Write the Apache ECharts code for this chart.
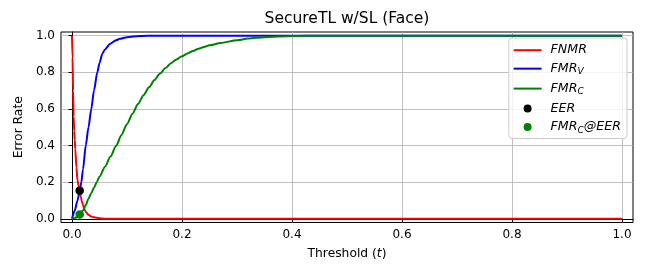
<!DOCTYPE html>
<html>
<head>
<meta charset="utf-8">
<script src="https://cdn.jsdelivr.net/npm/echarts@6/dist/echarts.min.js"></script>
<style>
html,body{margin:0;padding:0;background:#fff;}
#chart{width:648px;height:278px;}
</style>
</head>
<body>
<div id="chart"></div>
<script>
// ---- data ----
const tFNMR = [0, 0.001, 0.002, 0.003, 0.004, 0.005, 0.006, 0.008, 0.01, 0.012, 0.014, 0.016, 0.018, 0.02, 0.023, 0.026, 0.03, 0.035, 0.04, 0.05, 0.06, 0.07, 0.08, 0.1, 1.0];
const fnmr  = [1.0, 0.88, 0.7, 0.56, 0.48, 0.43, 0.38, 0.28, 0.21, 0.18, 0.154, 0.12, 0.095, 0.075, 0.05, 0.035, 0.022, 0.013, 0.008, 0.003, 0.001, 0.0005, 0, 0, 0];

const tFMRV = [0, 0.005, 0.01, 0.014, 0.017, 0.02, 0.025, 0.03, 0.035, 0.04, 0.046, 0.05, 0.055, 0.06, 0.069, 0.08, 0.087, 0.1, 0.123, 0.15, 0.2, 0.4, 1.0];
const fmrV  = [0, 0.045, 0.1, 0.154, 0.2, 0.27, 0.4, 0.5, 0.6, 0.7, 0.8, 0.85, 0.9, 0.925, 0.955, 0.975, 0.983, 0.992, 0.998, 1.0, 1.0, 1.0, 1.0];

const tFMRC = [0, 0.005, 0.01, 0.014, 0.02, 0.025, 0.03, 0.035, 0.04, 0.045, 0.05, 0.06, 0.07, 0.08, 0.09, 0.1, 0.11, 0.12, 0.13, 0.14, 0.15, 0.16, 0.17, 0.18, 0.19, 0.2, 0.21, 0.22, 0.23, 0.24, 0.25, 0.27, 0.3, 0.32, 0.35, 0.4, 0.45, 0.5, 1.0];
const fmrC  = [0, 0.004, 0.012, 0.023, 0.045, 0.075, 0.11, 0.14, 0.17, 0.2, 0.23, 0.285, 0.34, 0.397, 0.458, 0.518, 0.574, 0.627, 0.675, 0.718, 0.758, 0.793, 0.823, 0.85, 0.87, 0.888, 0.903, 0.916, 0.928, 0.938, 0.947, 0.96, 0.975, 0.984, 0.992, 0.998, 1.0, 1.0, 1.0];

const eerT = [0.014];
const eerY = [0.154];
const fmrCAtEER = [0.024];

const xTicks = [0, 0.2, 0.4, 0.6, 0.8, 1.0];
const yTicks = [0, 0.2, 0.4, 0.6, 0.8, 1.0];

const legendLabels = {
  'FNMR': '{i|FNMR}',
  'FMR_V': '{i|FMR}{s|V}',
  'FMR_C': '{i|FMR}{s|C}',
  'EER': '{i|EER}',
  'FMR_C@EER': '{i|FMR}{s|C}{i|@EER}'
};

const zip = (a, b) => a.map((v, i) => [v, b[i]]);
const FONT = 'DejaVu Sans';
const lineIcon = 'path://M0,0L28,0L28,2L0,2Z';

const chart = echarts.init(document.getElementById('chart'), null, {renderer: 'canvas'});
const axisCommon = {
  type: 'value',
  min: -0.02,
  max: 1.02,
  axisLine: {show: true, lineStyle: {color: '#000', width: 1}},
  axisTick: {show: true, inside: false, length: 3.5, lineStyle: {color: '#000', width: 1}},
  splitLine: {show: true, lineStyle: {color: '#b0b0b0', width: 0.8}},
  axisLabel: {
    color: '#000', fontFamily: FONT, fontSize: 12, margin: 6,
    formatter: v => v.toFixed(1)
  }
};

chart.setOption({
  animation: false,
  backgroundColor: '#fff',
  title: {
    text: 'SecureTL w/SL (Face)',
    left: 347, top: 11, padding: 0, textAlign: 'center',
    textStyle: {fontFamily: FONT, fontSize: 15.5, fontWeight: 'normal', color: '#000'}
  },
  grid: {
    left: 61, right: 15, top: 32, bottom: 55.5,
    show: true, borderColor: '#000', borderWidth: 1, backgroundColor: 'transparent',
    containLabel: false
  },
  xAxis: Object.assign({}, axisCommon, {
    axisLabel: Object.assign({}, axisCommon.axisLabel, {customValues: xTicks}),
    axisTick: Object.assign({}, axisCommon.axisTick, {customValues: xTicks}),
    name: '{n|Threshold (}{i|t}{n|)}',
    nameLocation: 'middle', nameGap: 25,
    nameTextStyle: {
      color: '#000', fontFamily: FONT, fontSize: 12.3,
      rich: {
        n: {fontFamily: FONT, fontSize: 12.3, color: '#000'},
        i: {fontFamily: FONT, fontSize: 12.3, color: '#000', fontStyle: 'italic'}
      }
    }
  }),
  yAxis: Object.assign({}, axisCommon, {
    axisLabel: Object.assign({}, axisCommon.axisLabel, {customValues: yTicks}),
    axisTick: Object.assign({}, axisCommon.axisTick, {customValues: yTicks}),
    name: 'Error Rate',
    nameLocation: 'middle', nameGap: 31, nameRotate: 90,
    nameTextStyle: {color: '#000', fontFamily: FONT, fontSize: 12.3}
  }),
  legend: {
    orient: 'vertical',
    right: 21, top: 38,
    itemWidth: 28, itemHeight: 8, itemGap: 5.45,
    padding: [5.7, 6, 3.5, 4.7],
    backgroundColor: 'rgba(255,255,255,0.8)',
    borderColor: '#cccccc', borderWidth: 1, borderRadius: 3,
    data: [
      {name: 'FNMR', icon: lineIcon},
      {name: 'FMR_V', icon: lineIcon},
      {name: 'FMR_C', icon: lineIcon},
      {name: 'EER', icon: 'circle'},
      {name: 'FMR_C@EER', icon: 'circle'}
    ],
    formatter: name => legendLabels[name],
    textStyle: {
      fontFamily: FONT, fontSize: 12.6, color: '#000', padding: [0, 0, 0, 4],
      rich: {
        i: {fontFamily: FONT, fontSize: 12.6, fontStyle: 'italic', color: '#000', lineHeight: 16, verticalAlign: 'middle'},
        s: {fontFamily: FONT, fontSize: 9, fontStyle: 'italic', color: '#000', lineHeight: 16, verticalAlign: 'bottom'}
      }
    }
  },
  series: [
    {name: 'FNMR', type: 'line', data: zip(tFNMR, fnmr), showSymbol: false, symbol: 'none',
     smooth: 0.25, smoothMonotone: 'x',
     lineStyle: {color: '#ff0000', width: 2}, itemStyle: {color: '#ff0000'}, z: 2},
    {name: 'FMR_V', type: 'line', data: zip(tFMRV, fmrV), showSymbol: false, symbol: 'none',
     smooth: 0.25, smoothMonotone: 'x',
     lineStyle: {color: '#0000ff', width: 2}, itemStyle: {color: '#0000ff'}, z: 2},
    {name: 'FMR_C', type: 'line', data: zip(tFMRC, fmrC), showSymbol: false, symbol: 'none',
     smooth: 0.25, smoothMonotone: 'x',
     lineStyle: {color: '#008000', width: 2}, itemStyle: {color: '#008000'}, z: 2},
    {name: 'EER', type: 'scatter', data: zip(eerT, eerY), symbol: 'circle', symbolSize: 8.5,
     itemStyle: {color: '#000000', opacity: 1}, z: 3},
    {name: 'FMR_C@EER', type: 'scatter', data: zip(eerT, fmrCAtEER), symbol: 'circle', symbolSize: 8.5,
     itemStyle: {color: '#008000', opacity: 1}, z: 3}
  ]
});
</script>
</body>
</html>
